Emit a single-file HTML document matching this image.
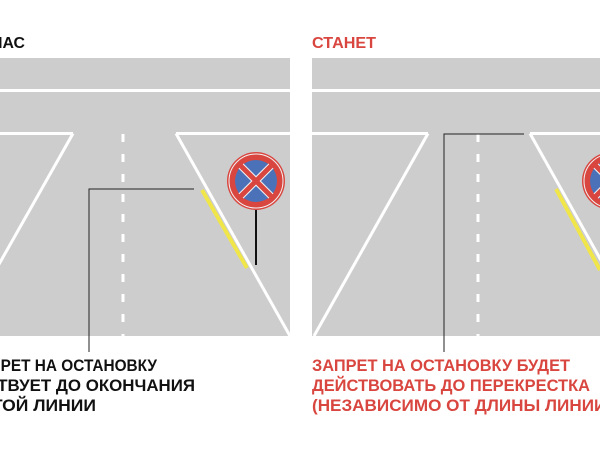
<!DOCTYPE html>
<html><head><meta charset="utf-8"><style>
html,body{margin:0;padding:0;background:#fff;width:600px;height:450px;overflow:hidden}
svg text{font-family:"Liberation Sans",Arial,sans-serif;font-weight:bold}
</style></head><body>
<svg width="600" height="450" viewBox="0 0 600 450" xmlns="http://www.w3.org/2000/svg">
<!-- LEFT PANEL -->
<rect x="0" y="58" width="290" height="278" fill="#cdcdcd"/>
<rect x="0" y="89" width="290" height="3" fill="#fff"/>
<line x1="0" y1="133.5" x2="73" y2="133.5" stroke="#fff" stroke-width="3"/>
<line x1="176" y1="133.5" x2="290" y2="133.5" stroke="#fff" stroke-width="3"/>
<line x1="73" y1="133.5" x2="-2" y2="266" stroke="#fff" stroke-width="3"/>
<line x1="176" y1="133.5" x2="290" y2="336" stroke="#fff" stroke-width="3"/>
<line x1="123" y1="134" x2="123" y2="336" stroke="#fff" stroke-width="3" stroke-dasharray="8,12"/>
<line x1="202" y1="190" x2="247" y2="268" stroke="#f0e64a" stroke-width="4"/>
<polyline points="89,352 89,189 194,189" fill="none" stroke="#222" stroke-width="1"/>
<line x1="256" y1="205" x2="256" y2="265" stroke="#111" stroke-width="2"/>
<circle cx="256" cy="181" r="29" fill="#d9463f"/>
<circle cx="256" cy="181" r="27" fill="none" stroke="#f2f2f2" stroke-width="1"/>
<circle cx="256" cy="181" r="21" fill="#4b72b8"/>
<line x1="241" y1="166" x2="271" y2="196" stroke="#f2f2f2" stroke-width="7"/>
<line x1="271" y1="166" x2="241" y2="196" stroke="#f2f2f2" stroke-width="7"/>
<line x1="240" y1="165" x2="272" y2="197" stroke="#d9463f" stroke-width="5"/>
<line x1="272" y1="165" x2="240" y2="197" stroke="#d9463f" stroke-width="5"/>
<text x="-42" y="48" font-size="16" fill="#111" textLength="67" lengthAdjust="spacingAndGlyphs">СЕЙЧАС</text>
<text x="-31" y="371" font-size="17" fill="#111" textLength="188" lengthAdjust="spacingAndGlyphs">ЗАПРЕТ НА ОСТАНОВКУ</text>
<text x="-50" y="391" font-size="17" fill="#111" textLength="245" lengthAdjust="spacingAndGlyphs">ДЕЙСТВУЕТ ДО ОКОНЧАНИЯ</text>
<text x="-48" y="411" font-size="17" fill="#111" textLength="144" lengthAdjust="spacingAndGlyphs">ЖЕЛТОЙ ЛИНИИ</text>
<!-- RIGHT PANEL -->
<rect x="312" y="58" width="288" height="278" fill="#cdcdcd"/>
<rect x="312" y="89" width="288" height="3" fill="#fff"/>
<line x1="312" y1="133.5" x2="428" y2="133.5" stroke="#fff" stroke-width="3"/>
<line x1="530" y1="133.5" x2="600" y2="133.5" stroke="#fff" stroke-width="3"/>
<line x1="428" y1="133.5" x2="314" y2="336" stroke="#fff" stroke-width="3"/>
<line x1="530" y1="133.5" x2="602" y2="262" stroke="#fff" stroke-width="3"/>
<line x1="478" y1="134" x2="478" y2="336" stroke="#fff" stroke-width="3" stroke-dasharray="8,12"/>
<line x1="556" y1="189" x2="600" y2="270" stroke="#f0e64a" stroke-width="4"/>
<polyline points="444,352 444,134 524,134" fill="none" stroke="#222" stroke-width="1"/>
<circle cx="611" cy="181" r="29" fill="#d9463f"/>
<circle cx="611" cy="181" r="27" fill="none" stroke="#f2f2f2" stroke-width="1"/>
<circle cx="611" cy="181" r="21" fill="#4b72b8"/>
<line x1="596" y1="166" x2="626" y2="196" stroke="#f2f2f2" stroke-width="7"/>
<line x1="626" y1="166" x2="596" y2="196" stroke="#f2f2f2" stroke-width="7"/>
<line x1="595" y1="165" x2="627" y2="197" stroke="#d9463f" stroke-width="5"/>
<line x1="627" y1="165" x2="595" y2="197" stroke="#d9463f" stroke-width="5"/>
<text x="312" y="48" font-size="16" fill="#d9463f" textLength="64" lengthAdjust="spacingAndGlyphs">СТАНЕТ</text>
<text x="312" y="371" font-size="17" fill="#d9463f" textLength="258" lengthAdjust="spacingAndGlyphs">ЗАПРЕТ НА ОСТАНОВКУ БУДЕТ</text>
<text x="312" y="391" font-size="17" fill="#d9463f" textLength="278" lengthAdjust="spacingAndGlyphs">ДЕЙСТВОВАТЬ ДО ПЕРЕКРЕСТКА</text>
<text x="312" y="411" font-size="17" fill="#d9463f" textLength="300" lengthAdjust="spacingAndGlyphs">(НЕЗАВИСИМО ОТ ДЛИНЫ ЛИНИИ)</text>
</svg>
</body></html>
